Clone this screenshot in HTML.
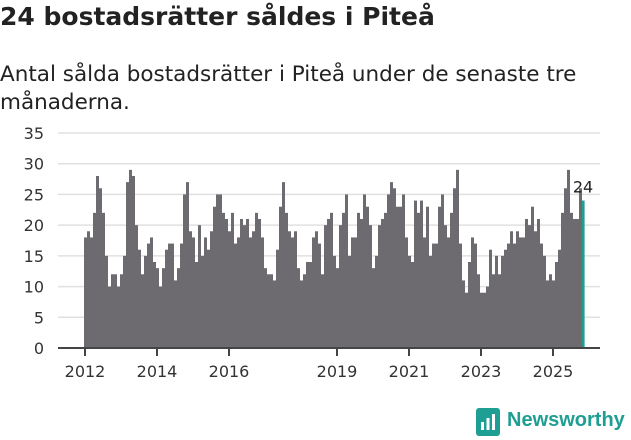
<!DOCTYPE html>
<html><head><meta charset="utf-8"><style>
body{margin:0;width:631px;height:439px;background:#fff;font-family:"DejaVu Sans",sans-serif;overflow:hidden;position:relative}
h1{position:absolute;left:0;top:2px;margin:0;font-size:25px;font-weight:bold;color:#222;white-space:nowrap}
.sub{position:absolute;left:0;top:61px;font-size:21.5px;line-height:28px;color:#222;width:625px}
</style></head><body>
<h1>24 bostadsrätter såldes i Piteå</h1>
<div class="sub">Antal sålda bostadsrätter i Piteå under de senaste tre<br>månaderna.</div>
<svg id="chart" width="631" height="439" style="position:absolute;left:0;top:0"></svg>
<div style="position:absolute;left:476px;top:408px;width:24px;height:28px;background:#1f9e93;border-radius:3px">
<svg width="24" height="28"><rect x="5" y="14" width="3" height="8" fill="#fff"/><rect x="10.5" y="10" width="3" height="12" fill="#fff"/><rect x="16" y="6" width="3" height="16" fill="#fff"/></svg></div>
<div style="position:absolute;left:507px;top:409px;font-size:20px;font-weight:bold;color:#1f9e93;font-family:'Liberation Sans',sans-serif">Newsworthy</div>
<script>
const values=[18,19,18,22,28,26,22,15,10,12,12,10,12,15,27,29,28,20,16,12,15,17,18,14,13,10,13,16,17,17,11,13,17,25,27,19,18,
14,20,15,18,16,19,23,25,25,22,21,19,22,17,18,21,20,21,18,19,22,21,18,13,12,12,11,16,23,27,22,19,18,19,13,11,12,14,14,18,19,17,12,
20,21,22,15,13,20,22,25,15,18,18,22,21,25,23,20,13,15,20,21,22,25,27,26,23,23,25,18,15,14,24,22,24,18,23,15,17,17,23,25,20,18,22,26,
29,17,11,9,14,18,17,12,9,9,10,16,12,15,12,15,16,17,19,17,19,18,18,21,20,23,19,21,17,15,11,12,11,14,16,22,26,29,22,21,21,26,24];
const yTicks=[0,5,10,15,20,25,30,35];
const xYears=[2012,2014,2016,2019,2021,2023,2025];
const startYear=2012;
const svg=document.getElementById('chart');
const NS='http://www.w3.org/2000/svg';
const y=v=>348-v*6.143;
const x=i=>84+i*3;
function mk(t,a){const e=document.createElementNS(NS,t);for(const k in a)e.setAttribute(k,a[k]);svg.appendChild(e);return e;}
yTicks.forEach(v=>{
 const g=mk('line',{x1:58,x2:600,y1:y(v),y2:y(v),stroke:v?'#e0e0e0':'#444','stroke-width':v?1.5:2});
 
 
 const t=mk('text',{x:44,y:y(v)+6,'text-anchor':'end','font-size':16,fill:'#333','font-family':'DejaVu Sans'});
 t.textContent=v;
 
 
});
values.forEach((v,i)=>{
 const last=i===values.length-1;
 const r=mk('rect',{x:x(i),y:y(v),width:last?2.6:3,height:348-y(v),fill:last?'#1f9e93':'#6d6b70'});
 
 
});
mk('line',{x1:58,x2:600,y1:348,y2:348,stroke:'#444','stroke-width':2});
xYears.forEach(yr=>{
 const px=x((yr-startYear)*12)+1;
 const l=mk('line',{x1:px,x2:px,y1:348,y2:356,stroke:'#444','stroke-width':2});
 
 
 const t=mk('text',{x:px,y:377,'text-anchor':'middle','font-size':16,fill:'#333','font-family':'DejaVu Sans'});
 t.textContent=yr;
 
 
});
const li=values.length-1;
const lbl=mk('text',{x:x(li)+1,y:y(values[li])-8,'text-anchor':'middle','font-size':16,fill:'#222','font-family':'DejaVu Sans'});
lbl.textContent=values[li];


</script>
</body></html>
